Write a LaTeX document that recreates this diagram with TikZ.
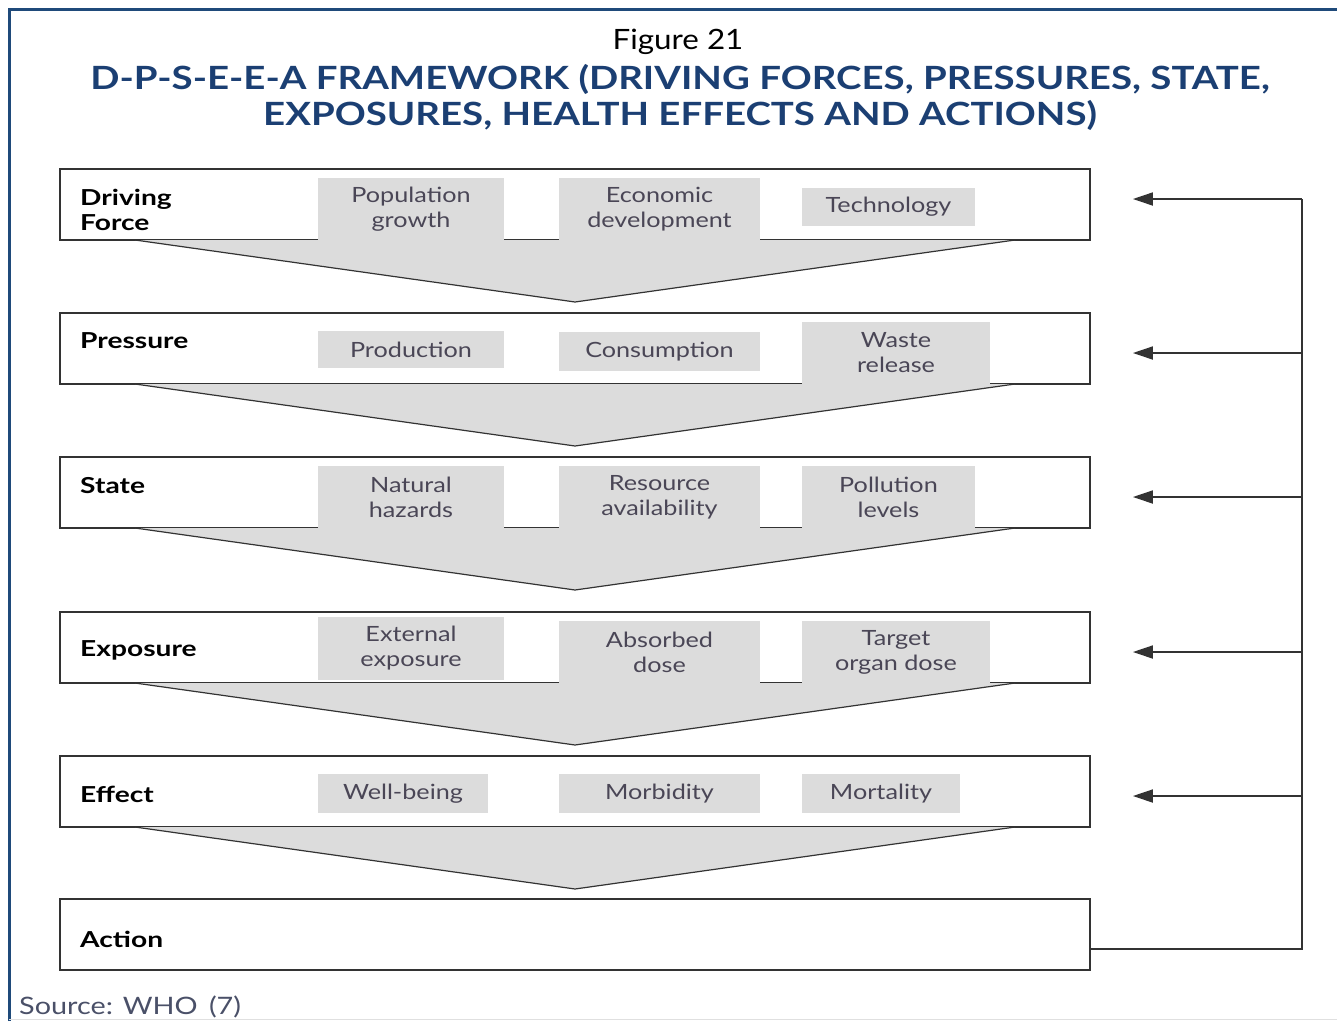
\documentclass[tikz,border=0pt]{standalone}
\usepackage{fontspec}
\setmainfont[FakeStretch=1.12]{Lato}
\newfontfamily\titlefont[FakeStretch=1.2]{Lato}
\newfontfamily\labfont[FakeStretch=1.28]{Lato}
\newfontfamily\subfont[FakeStretch=1.2]{Lato}
\usetikzlibrary{arrows.meta}
\definecolor{frameblue}{HTML}{1F4A7A}
\definecolor{titleblue}{HTML}{1B3F73}
\definecolor{subgray}{HTML}{DCDCDC}
\definecolor{subtext}{HTML}{4A4656}
\definecolor{linegray}{HTML}{333333}
\definecolor{srcgray}{HTML}{4A5068}
\tikzset{
  rowbox/.style={draw=linegray, line width=1.8pt, fill=white, minimum width=1030pt, minimum height=71pt, inner sep=0pt},
  sub/.style={fill=subgray, inner sep=0pt, align=center, text=subtext, font=\subfont\fontsize{21}{25}\selectfont},
  lab/.style={anchor=west, align=left, inner sep=0pt, font=\labfont\bfseries\fontsize{22}{25}\selectfont},
  funnel/.style={fill=subgray},
  funline/.style={draw=linegray, line width=1.2pt},
  fb/.style={draw=linegray, line width=1.8pt},
  fbarrow/.style={fb, -{Triangle[length=20pt,width=13pt]}, shorten >=42pt}
}
\begin{document}
\begin{tikzpicture}[x=1pt,y=-1pt]
\useasboundingbox (0,0) rectangle (1337,1021);
% page frame
\draw[frameblue, line width=3pt] (9,1021) -- (9,9) -- (1337,9);
\draw[black!12, line width=1pt] (9,1019.5) -- (1337,1019.5);
% titles
\node[font=\fontsize{28}{32}\selectfont] (fig) at (678,42) {Figure 21};
\node[font=\titlefont\bfseries\fontsize{32}{36}\selectfont, text=titleblue, align=center] (title) at (680,97)
  {D-P-S-E-E-A FRAMEWORK (DRIVING FORCES, PRESSURES, STATE,\\EXPOSURES, HEALTH EFFECTS AND ACTIONS)};
% row boxes
\node[rowbox] (b1) at (575,204.5) {};
\node[rowbox] (b2) at (575,348.5) {};
\node[rowbox] (b3) at (575,492.5) {};
\node[rowbox] (b4) at (575,647.5) {};
\node[rowbox] (b5) at (575,791.5) {};
\node[rowbox] (b6) at (575,934.5) {};
% funnels
\foreach \t/\a in {240/302, 384/446, 528/590, 683/745, 827/889}{
  \fill[funnel] (135,\t) -- (1015,\t) -- (575,\a) -- cycle;
  \draw[funline] (135,\t) -- (575,\a) -- (1015,\t);
}
% labels
\node[lab] (l1) at (80,209.5) {Driving\\Force};
\node[lab] (l2) at (80,341) {Pressure};
\node[lab] (l3) at (80,486) {State};
\node[lab] (l4) at (80,650) {Exposure};
\node[lab] (l5) at (80,794) {Effect};
\node[lab] (l6) at (80,939) {Action};
% sub boxes row 1
\node[sub, minimum width=186pt, minimum height=62pt] (s11) at (411,209) {Population\\growth};
\node[sub, minimum width=201pt, minimum height=62pt] (s12) at (659.5,209) {Economic\\development};
\node[sub, minimum width=173pt, minimum height=38pt] (s13) at (888.5,207) {Technology};
% row 2
\node[sub, minimum width=186pt, minimum height=37pt] (s21) at (411,349.5) {Production};
\node[sub, minimum width=201pt, minimum height=39pt] (s22) at (659.5,351.5) {Consumption};
\node[sub, minimum width=188pt, minimum height=62pt] (s23) at (896,353) {Waste\\release};
% row 3
\node[sub, minimum width=186pt, minimum height=62pt] (s31) at (411,497) {Natural\\hazards};
\node[sub, minimum width=201pt, minimum height=62pt] (s32) at (659.5,497) {Resource\\availability};
\node[sub, minimum width=173pt, minimum height=62pt] (s33) at (888.5,497) {Pollution\\levels};
% row 4
\node[sub, minimum width=186pt, minimum height=63pt] (s41) at (411,648.5) {External\\exposure};
\node[sub, minimum width=201pt, minimum height=62pt] (s42) at (659.5,652) {Absorbed\\dose};
\node[sub, minimum width=188pt, minimum height=62pt] (s43) at (896,652) {Target\\organ dose};
% row 5
\node[sub, minimum width=170pt, minimum height=39pt] (s51) at (403,793.5) {Well-being};
\node[sub, minimum width=201pt, minimum height=39pt] (s52) at (659.5,793.5) {Morbidity};
\node[sub, minimum width=158pt, minimum height=39pt] (s53) at (881,793.5) {Mortality};
% feedback
\coordinate (f1) at (1302,199);
\coordinate (f2) at (1302,353);
\coordinate (f3) at (1302,497);
\coordinate (f4) at (1302,652);
\coordinate (f5) at (1302,796);
\coordinate (f6) at (1302,949);
\coordinate (a6) at (1090,949);
\draw[fb] (a6) -- (f6) -- (f1);
\draw[fbarrow] (f1) -- (b1.east |- f1);
\draw[fbarrow] (f2) -- (b2.east |- f2);
\draw[fbarrow] (f3) -- (b3.east |- f3);
\draw[fbarrow] (f4) -- (b4.east |- f4);
\draw[fbarrow] (f5) -- (b5.east |- f5);
% source
\node[anchor=west, inner sep=0pt, text=srcgray, font=\subfont\fontsize{24}{28}\selectfont] (src) at (19,1007) {Source: WHO\ \,(7)};
\end{tikzpicture}
\end{document}
